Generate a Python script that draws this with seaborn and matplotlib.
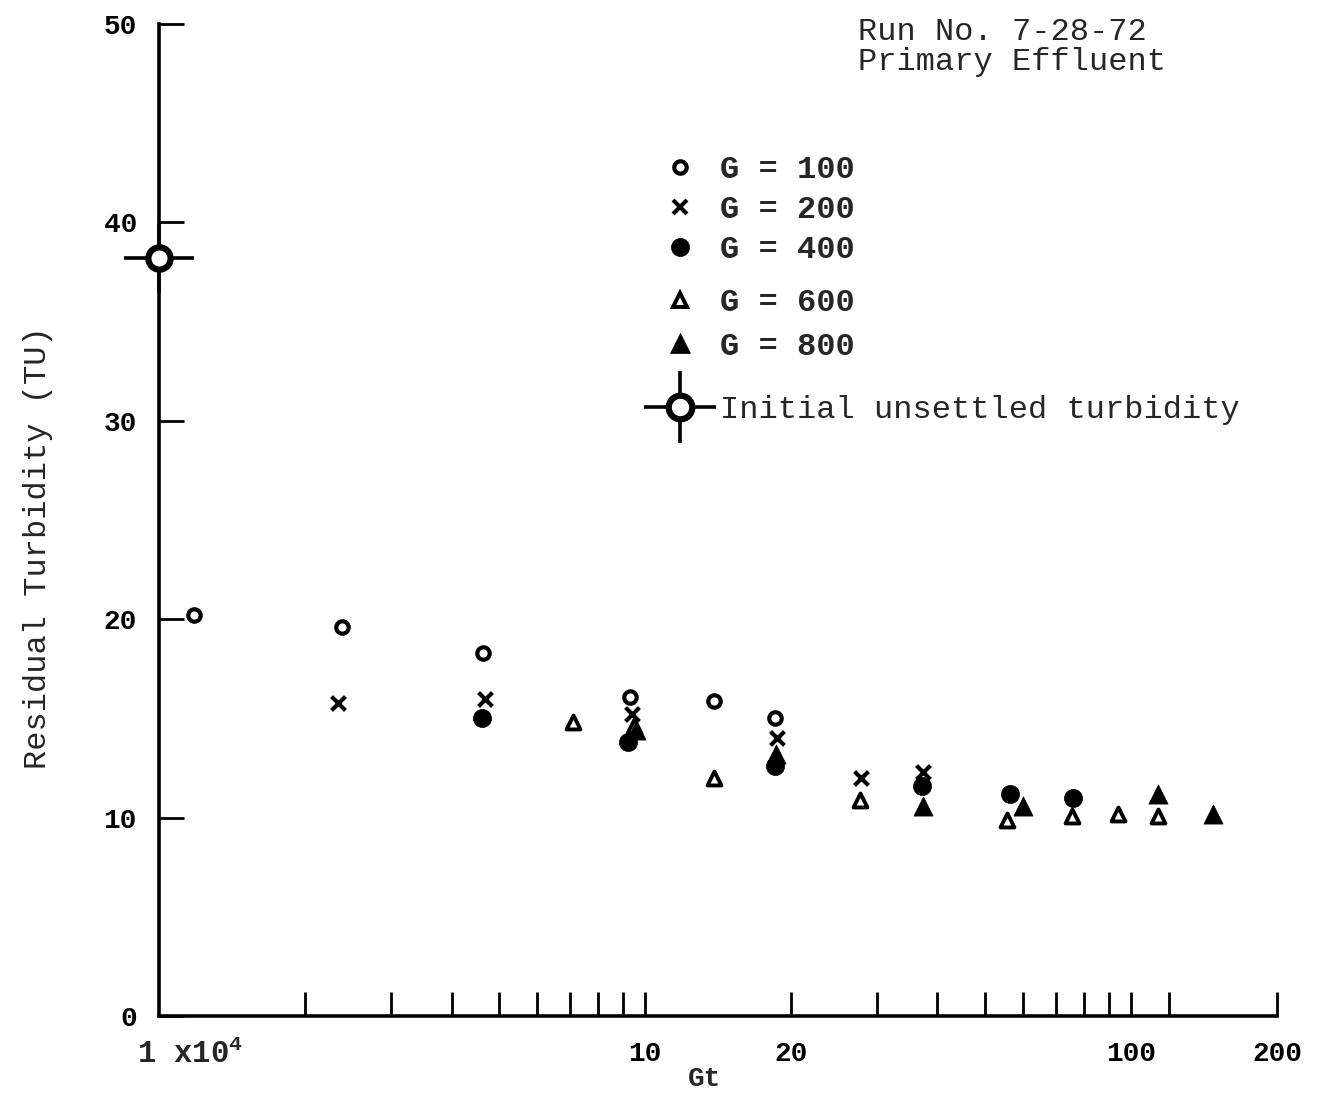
import numpy as np
import pandas as pd
import matplotlib
matplotlib.use("Agg")
import matplotlib.pyplot as plt
import seaborn as sns
from matplotlib.lines import Line2D
from matplotlib.legend_handler import HandlerTuple
from matplotlib.ticker import FixedLocator, FixedFormatter, NullFormatter

# Gt (x 10^4) and residual turbidity (TU) for each velocity gradient G
gt_g100 = [1.18, 2.38, 4.65, 9.3, 13.9, 18.5]
tu_g100 = [20.2, 19.6, 18.3, 16.1, 15.9, 15.0]
gt_g200 = [2.33, 4.69, 9.4, 18.7, 27.9, 37.4]
tu_g200 = [15.8, 16.0, 15.2, 14.0, 12.0, 12.3]
gt_g400 = [4.61, 9.24, 18.5, 37.1, 56.4, 75.9]
tu_g400 = [15.0, 13.8, 12.6, 11.6, 11.2, 11.0]
gt_g600 = [7.1, 9.5, 13.9, 27.7, 55.7, 75.6, 94.2, 113.8]
tu_g600 = [14.8, 14.6, 12.0, 10.9, 9.9, 10.1, 10.2, 10.1]
gt_g800 = [9.6, 18.6, 37.4, 60.0, 113.8, 147.6]
tu_g800 = [14.4, 13.2, 10.6, 10.6, 11.2, 10.2]

# initial unsettled turbidity, plotted on the y axis
initial_gt = [1.0]
initial_tu = [38.2]

series_labels = ["G = 100", "G = 200", "G = 400", "G = 600", "G = 800"]
y_ticks = [0, 10, 20, 30, 40, 50]
x_major = [10, 20, 100, 200]
x_major_labels = ["10", "20", "100", "200"]
x_minor = [2, 3, 4, 5, 6, 7, 8, 9, 30, 40, 50, 60, 70, 80, 90, 120]

sns.set_style("ticks")
plt.rcParams["font.family"] = ["Liberation Mono", "DejaVu Sans Mono"]
plt.rcParams["mathtext.fontset"] = "custom"
plt.rcParams["mathtext.rm"] = "Liberation Mono:bold"

frames = []
for lab, gx, ty in zip(series_labels,
                       [gt_g100, gt_g200, gt_g400, gt_g600, gt_g800],
                       [tu_g100, tu_g200, tu_g400, tu_g600, tu_g800]):
    frames.append(pd.DataFrame({"Gt": gx, "TU": ty, "series": lab}))
df = pd.concat(frames, ignore_index=True)

styles = {
    "G = 100": dict(marker="o", s=80, facecolor="white", edgecolor="black", linewidth=3.0),
    "G = 200": dict(marker="x", s=100, color="black", linewidth=3.0),
    "G = 400": dict(marker="o", s=170, facecolor="black", edgecolor="black", linewidth=0.5),
    "G = 600": dict(marker="^", s=100, facecolor="white", edgecolor="black", linewidth=2.8),
    "G = 800": dict(marker="^", s=190, facecolor="black", edgecolor="black", linewidth=0.5),
}

fig = plt.figure(figsize=(13.23, 10.93), dpi=100)
ax = fig.add_axes([0.1202, 0.0704, 0.8451, 0.9076])

for lab in series_labels:
    sub = df[df["series"] == lab]
    sns.scatterplot(data=sub, x="Gt", y="TU", ax=ax, legend=False, zorder=3, **styles[lab])

init_df = pd.DataFrame({"Gt": initial_gt, "TU": initial_tu})
sns.scatterplot(data=init_df, x="Gt", y="TU", ax=ax, legend=False, marker="+",
                s=50 ** 2, color="black", linewidth=2.6, clip_on=False, zorder=4)
sns.scatterplot(data=init_df, x="Gt", y="TU", ax=ax, legend=False, marker="o",
                s=16 ** 2, facecolor="white", edgecolor="black", linewidth=4.5,
                clip_on=False, zorder=5)

ax.set_xscale("log")
ax.set_xlim(1, 200)
ax.set_ylim(0, 50)

ax.xaxis.set_major_locator(FixedLocator(x_major))
ax.xaxis.set_major_formatter(FixedFormatter(x_major_labels))
ax.xaxis.set_minor_locator(FixedLocator(x_minor))
ax.xaxis.set_minor_formatter(NullFormatter())
ax.set_yticks(y_ticks)
ax.set_yticklabels([str(v) for v in y_ticks])

for side in ["top", "right"]:
    ax.spines[side].set_visible(False)
for side in ["left", "bottom"]:
    ax.spines[side].set_linewidth(2.6)
    ax.spines[side].set_color("black")

ax.tick_params(axis="x", which="both", direction="in", length=17, width=2.0,
               bottom=True, top=False, pad=18, labelsize=20, colors="black")
ax.tick_params(axis="y", which="both", direction="in", length=18, width=2.0,
               left=True, right=False, pad=16, labelsize=20, colors="black")
for lbl in ax.get_xticklabels() + ax.get_yticklabels():
    lbl.set_fontweight("bold")

ax.annotate("1 x10$^4$", xy=(1, 0), xycoords=("data", "axes fraction"),
            xytext=(-16, -28), textcoords="offset points",
            ha="left", va="center", fontsize=22, fontweight="bold")

ax.set_xlabel("Gt", fontsize=20, fontweight="bold")
ax.xaxis.set_label_coords(0.488, -0.05)
ax.set_ylabel("Residual Turbidity (TU)", fontsize=23)
ax.yaxis.set_label_coords(-0.095, 0.472)

fig.text(858 / 1323, 1 - 32 / 1093, "Run No. 7-28-72", fontsize=23,
         ha="left", va="center")
fig.text(858 / 1323, 1 - 62 / 1093, "Primary Effluent", fontsize=23,
         ha="left", va="center")

def key(lab):
    st = styles[lab]
    ms = np.sqrt(st["s"])
    if st["marker"] == "x":
        return Line2D([], [], linestyle="none", marker="x", markersize=ms,
                      color="black", markeredgewidth=st["linewidth"])
    return Line2D([], [], linestyle="none", marker=st["marker"], markersize=ms,
                  markerfacecolor=st["facecolor"], markeredgecolor="black",
                  markeredgewidth=st["linewidth"])

leg_kw = dict(frameon=False, borderpad=0, borderaxespad=0,
              handlelength=1.5, handletextpad=0.5, loc="center left",
              bbox_transform=fig.transFigure,
              prop={"size": 23, "weight": "bold"})

leg1 = ax.legend([key(l) for l in series_labels[:3]], series_labels[:3],
                 bbox_to_anchor=(656 / 1323, 1 - 210 / 1093),
                 labelspacing=0.31, **leg_kw)
ax.add_artist(leg1)
leg2 = ax.legend([key(l) for l in series_labels[3:]], series_labels[3:],
                 bbox_to_anchor=(656 / 1323, 1 - 325 / 1093),
                 labelspacing=0.41, **leg_kw)
ax.add_artist(leg2)
cross = Line2D([], [], linestyle="none", marker="+", markersize=52,
               color="black", markeredgewidth=2.6)
ring = Line2D([], [], linestyle="none", marker="o", markersize=17,
              markerfacecolor="white", markeredgecolor="black", markeredgewidth=4.5)
leg3 = ax.legend([(cross, ring)], ["Initial unsettled turbidity"],
                 handler_map={tuple: HandlerTuple(ndivide=1)},
                 bbox_to_anchor=(656 / 1323, 1 - 410 / 1093),
                 frameon=False, borderpad=0, borderaxespad=0,
                 handlelength=1.5, handletextpad=0.5, loc="center left",
                 bbox_transform=fig.transFigure, prop={"size": 23})

fig.savefig("out.png", dpi=100)
